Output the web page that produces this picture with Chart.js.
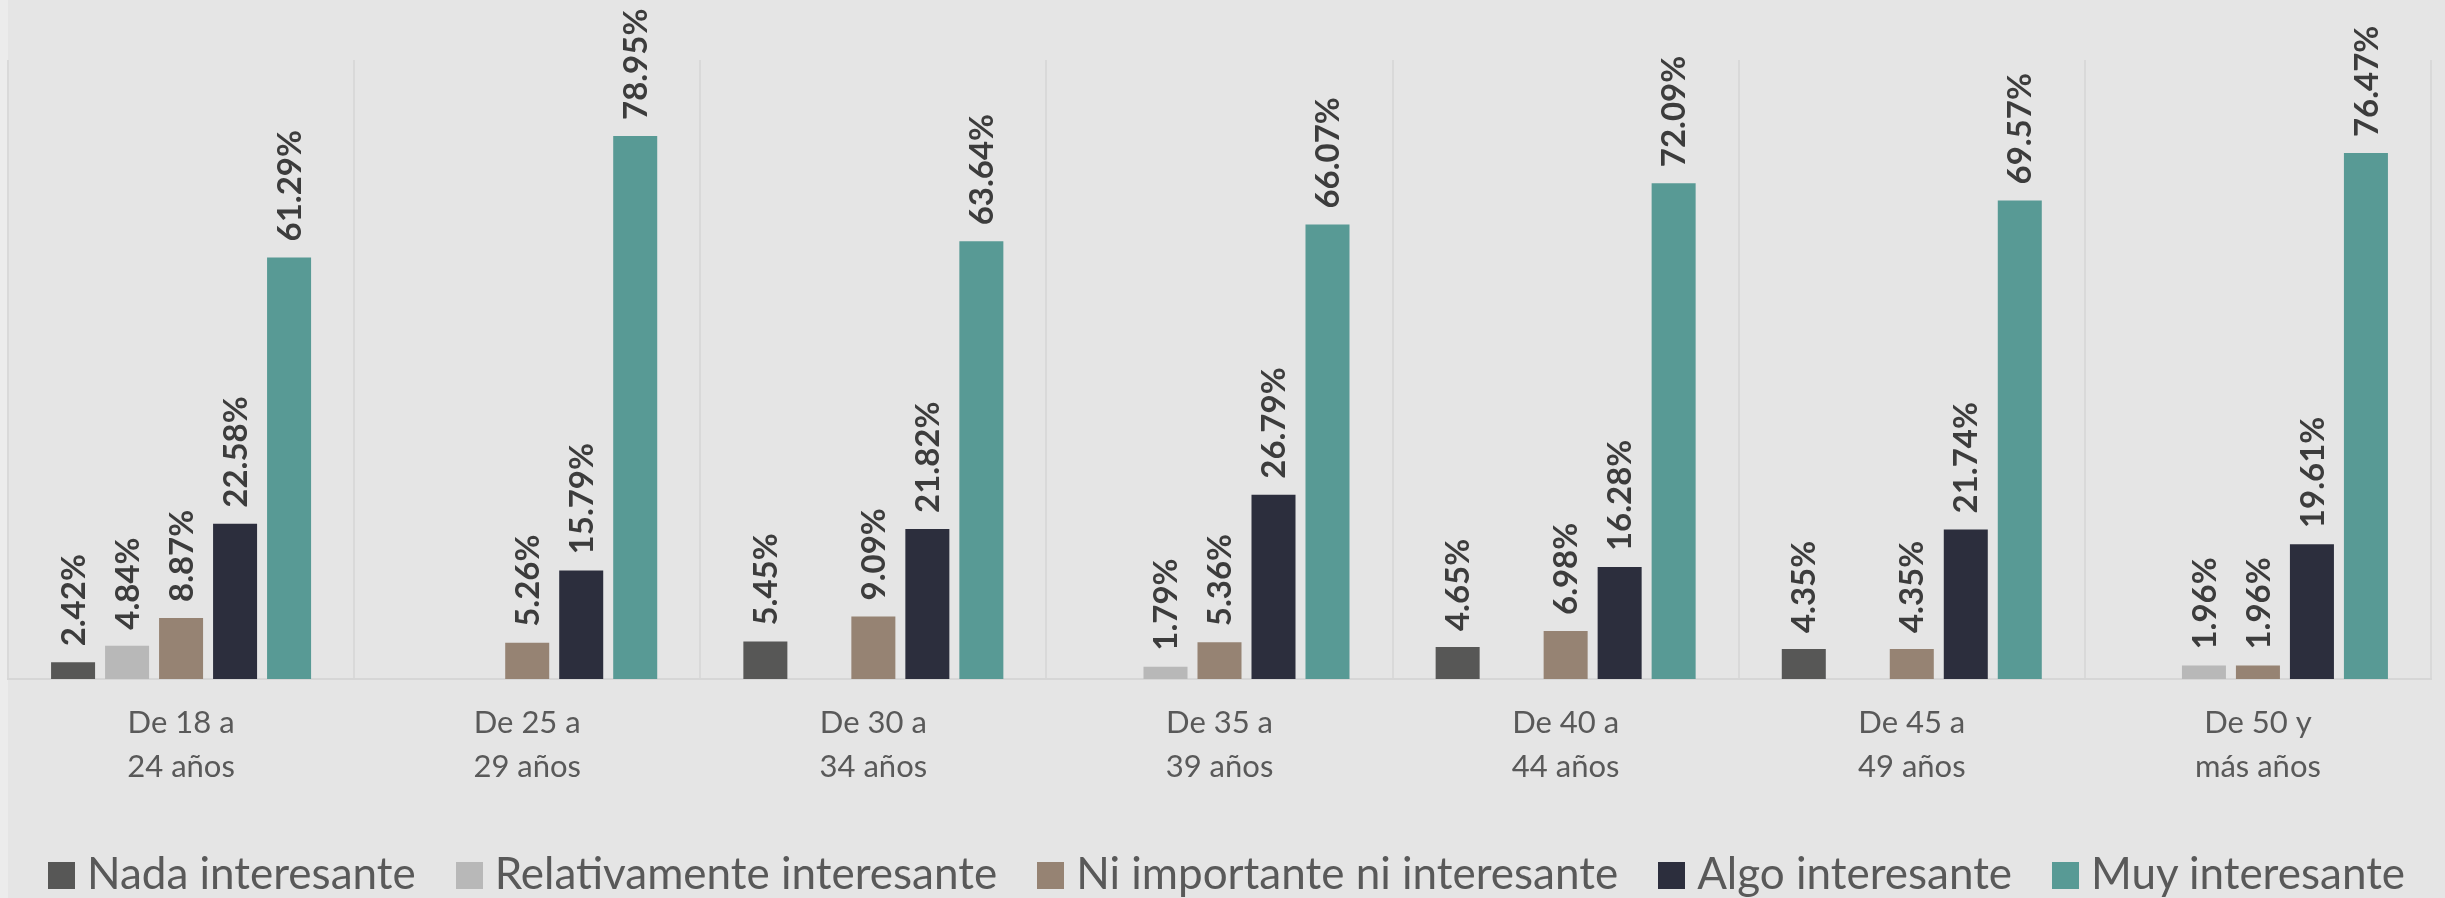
<!DOCTYPE html>
<html lang="es">
<head>
<meta charset="utf-8">
<title>Interés por grupo de edad</title>
<script src="https://cdn.jsdelivr.net/npm/chart.js"></script>
<style>
    html, body { margin: 0; padding: 0; background: #ececec; }
    #wrap {
        position: relative;
        width: 2445px;
        height: 898px;
        overflow: hidden;
    }
    #bg {
        position: absolute;
        left: 8px; top: 0;
        width: 2437px; height: 898px;
        background: #e5e5e5;
    }
    #chartBox {
        position: absolute;
        left: 0; top: 0;
        width: 2445px; height: 898px;
    }
    #legend {
        position: absolute;
        left: 8px;
        width: 2437px;
        top: 850px;
        text-align: center;
        white-space: nowrap;
        font-family: Lato, "Noto Sans", sans-serif;
        font-size: 44px;
        line-height: 44px;
        color: #595959;
    }
    #legend .item { display: inline-block; margin: 0 20px; }
    #legend .box {
        display: inline-block;
        width: 27px; height: 27px;
        margin-right: 12px;
    }
</style>
</head>
<body>
<div id="wrap">
    <div id="bg"></div>
    <div id="chartBox"><canvas id="ageChart"></canvas></div>
    <div id="legend"></div>
</div>

<script>
// Datos del gráfico
const categorias = [
    ["De 18 a", "24 años"],
    ["De 25 a", "29 años"],
    ["De 30 a", "34 años"],
    ["De 35 a", "39 años"],
    ["De 40 a", "44 años"],
    ["De 45 a", "49 años"],
    ["De 50 y", "más años"]
];

const nadaInteresante = [2.42, null, 5.45, null, 4.65, 4.35, null];
const relativamenteInteresante = [4.84, null, null, 1.79, null, null, 1.96];
const niImportante = [8.87, 5.26, 9.09, 5.36, 6.98, 4.35, 1.96];
const algoInteresante = [22.58, 15.79, 21.82, 26.79, 16.28, 21.74, 19.61];
const muyInteresante = [61.29, 78.95, 63.64, 66.07, 72.09, 69.57, 76.47];

const series = [
    { label: "Nada interesante", data: nadaInteresante, color: "#575756" },
    { label: "Relativamente interesante", data: relativamenteInteresante, color: "#b8b8b8" },
    { label: "Ni importante ni interesante", data: niImportante, color: "#968373" },
    { label: "Algo interesante", data: algoInteresante, color: "#2c2e3d" },
    { label: "Muy interesante", data: muyInteresante, color: "#589a95" }
];

// Plugin para escribir los porcentajes girados encima de cada barra
const etiquetasPlugin = {
    id: 'etiquetas',
    afterDatasetsDraw(chart) {
        const ctx = chart.ctx;
        ctx.save();
        ctx.font = "bold 33px Lato, 'Noto Sans', sans-serif";
        ctx.fillStyle = "#3c3c3c";
        ctx.textAlign = "left";
        ctx.textBaseline = "middle";
        chart.data.datasets.forEach((ds, i) => {
            const meta = chart.getDatasetMeta(i);
            meta.data.forEach((bar, j) => {
                const v = ds.data[j];
                if (v === null || v === undefined) return;
                ctx.save();
                ctx.translate(bar.x + 1, bar.y - 16);
                ctx.rotate(-Math.PI / 2);
                ctx.fillText(v.toFixed(2) + "%", 0, 0);
                ctx.restore();
            });
        });
        ctx.restore();
    }
};

const ctx = document.getElementById('ageChart').getContext('2d');
const myChart = new Chart(ctx, {
    type: 'bar',
    data: {
        labels: categorias,
        datasets: series.map(s => ({
            label: s.label,
            data: s.data,
            backgroundColor: s.color,
            borderWidth: 0,
            categoryPercentage: 0.78,
            barPercentage: 0.815
        }))
    },
    options: {
        responsive: true,
        maintainAspectRatio: false,
        animation: false,
        layout: { padding: { left: 8, right: 14, top: 60, bottom: 0 } },
        plugins: {
            legend: { display: false },
            tooltip: { enabled: false }
        },
        scales: {
            x: {
                offset: true,
                grid: {
                    offset: true,
                    color: "#d9d9d9",
                    lineWidth: 2,
                    drawTicks: false
                },
                border: { display: true, color: "#d6d6d6", width: 2 },
                ticks: {
                    padding: 22,
                    color: "#595959",
                    font: { family: "Lato, 'Noto Sans', sans-serif", size: 31, lineHeight: 1.42 }
                },
                afterFit: (scale) => { scale.height = 219; }
            },
            y: {
                display: false,
                min: 0,
                max: 90
            }
        }
    },
    plugins: [etiquetasPlugin]
});

// Leyenda en HTML, construida con las mismas series
const legend = document.getElementById('legend');
series.forEach(s => {
    const item = document.createElement('span');
    item.className = 'item';
    item.innerHTML = `<span class="box" style="background:${s.color}"></span>${s.label}`;
    legend.appendChild(item);
});
</script>
</body>
</html>
